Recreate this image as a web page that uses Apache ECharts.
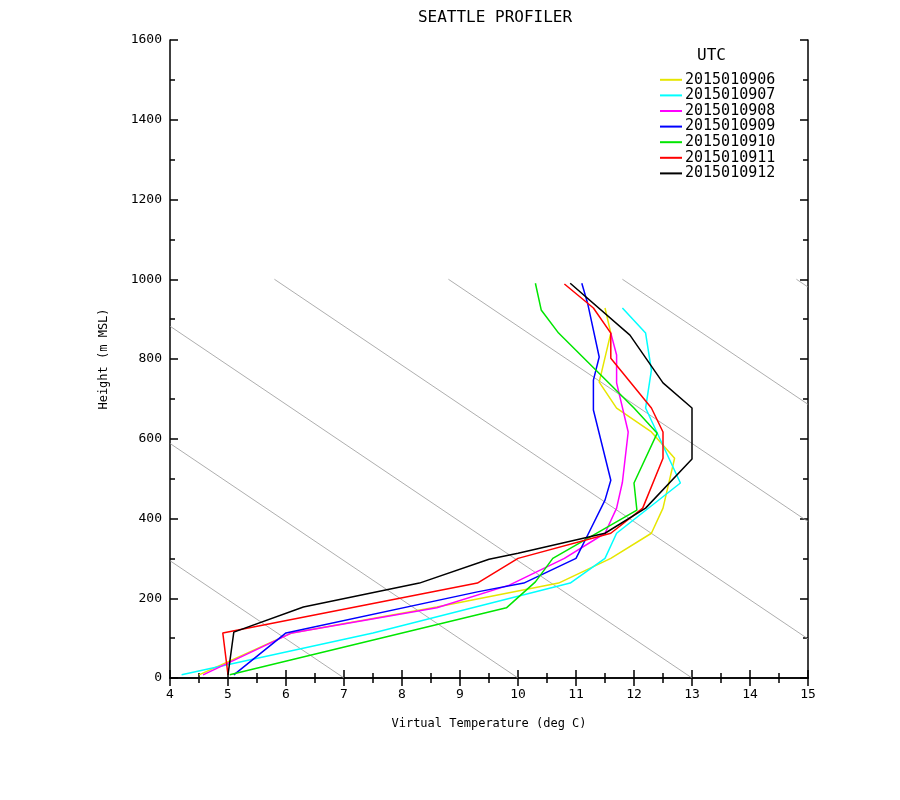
<!DOCTYPE html>
<html><head><meta charset="utf-8">
<script src="https://cdn.jsdelivr.net/npm/echarts@6/dist/echarts.min.js"></script>
<style>body{margin:0;background:#fff}#c{width:900px;height:800px}</style>
</head><body><div id="c"></div>
<script>
// [temperature degC, height m]
const s0906 = [[4.5,8],[6.1,113],[8.6,178],[10.7,238],[11.6,300],[12.3,363],[12.5,426],[12.7,551],[12.3,617],[11.7,677],[11.4,742],[11.6,865],[11.5,928]];
const s0907 = [[4.2,8],[7.5,113],[10.9,238],[11.5,300],[11.7,363],[12.8,489],[12.2,677],[12.3,772],[12.2,865],[11.8,928]];
const s0908 = [[4.57,8],[6.1,113],[8.6,176],[9.85,233],[10.8,300],[11.5,363],[11.7,426],[11.8,491],[11.9,617],[11.7,740],[11.7,810],[11.6,865]];
const s0909 = [[5.1,8],[6.0,113],[9.3,216],[10.1,238],[11.0,300],[11.2,358],[11.5,446],[11.6,496],[11.3,672],[11.3,747],[11.4,805],[11.2,940],[11.1,990]];
const s0910 = [[5.03,8],[9.8,176],[10.3,241],[10.6,300],[12.05,421],[12.0,489],[12.4,614],[12.0,677],[10.7,865],[10.4,923],[10.3,990]];
const s0911 = [[5.0,8],[4.91,113],[9.3,238],[10.0,300],[11.6,363],[12.15,426],[12.5,551],[12.5,617],[12.3,677],[11.6,802],[11.6,865],[11.3,928],[10.8,988]];
const s0912 = [[5.0,8],[5.1,115],[6.3,178],[8.3,238],[9.5,298],[10.0,313],[11.5,363],[12.2,426],[13.0,549],[13.0,677],[12.5,740],[11.93,860],[10.9,990]];
const names = ['2015010906','2015010907','2015010908','2015010909','2015010910','2015010911','2015010912'];
const colors = ['#e6e600','#00ffff','#ff00ff','#0000ff','#00e600','#ff0000','#000000'];
const adiabatT0 = [7,10,13,16,19,22,25]; // surface temp of dry adiabats
const lapse = 0.0102;

const font = 'DejaVu Sans Mono';
const data = [s0906,s0907,s0908,s0909,s0910,s0911,s0912];
const series = [];
adiabatT0.forEach(t0 => {
  const tA = Math.max(4, t0 - 1000*lapse), tB = Math.min(15, t0);
  series.push({type:'line', data:[[tA,(t0-tA)/lapse],[tB,(t0-tB)/lapse]], symbol:'none', silent:true,
    lineStyle:{color:'#999', width:0.8}, z:1});
});
data.forEach((d,i) => series.push({name:names[i], type:'line', data:d, symbol:'none',
  lineStyle:{color:colors[i], width:1.5}, itemStyle:{color:colors[i]}, z:3}));

const axBase = {axisLine:{lineStyle:{color:'#000',width:1.5}}, splitLine:{show:false},
  axisTick:{inside:true,length:8,lineStyle:{color:'#000',width:1.5}},
  minorTick:{show:true,splitNumber:2,length:5,lineStyle:{color:'#000',width:1.5}}};
const chart = echarts.init(document.getElementById('c'));
chart.setOption({
  animation:false,
  title:{text:'SEATTLE PROFILER', left:490, top:5, textAlign:'center',
    textStyle:{fontFamily:font, fontWeight:'normal', fontSize:16, color:'#000'}},
  grid:{left:170, right:92, top:40, bottom:122},
  legend:{data:names, orient:'vertical', left:655, top:67, itemWidth:22, itemHeight:2, itemGap:0,
    icon:'rect', textStyle:{fontFamily:font, fontSize:15, lineHeight:15.6, color:'#000', padding:[0,0,0,-2]}},
  graphic:[{type:'text', left:697, top:48, style:{text:'UTC', font:'16px "DejaVu Sans Mono"', fill:'#000'}}],
  xAxis:[
    Object.assign({type:'value', min:4, max:15, interval:1, name:'Virtual Temperature (deg C)',
      nameLocation:'middle', nameGap:40, nameTextStyle:{fontFamily:font, fontSize:12, color:'#000'},
      axisLabel:{fontFamily:font, fontSize:13, color:'#000', margin:10}}, axBase),
    Object.assign({type:'value', min:4, max:15, interval:1, position:'top', axisLabel:{show:false}}, axBase)
  ],
  yAxis:[
    Object.assign({type:'value', min:0, max:1600, interval:200, name:'Height (m MSL)',
      nameLocation:'middle', nameGap:60, nameTextStyle:{fontFamily:font, fontSize:12, color:'#000'},
      axisLabel:{fontFamily:font, fontSize:13, color:'#000', margin:8, formatter:v=>String(v)}}, axBase),
    Object.assign({type:'value', min:0, max:1600, interval:200, position:'right', axisLabel:{show:false}}, axBase)
  ],
  series:series
});
</script></body></html>
